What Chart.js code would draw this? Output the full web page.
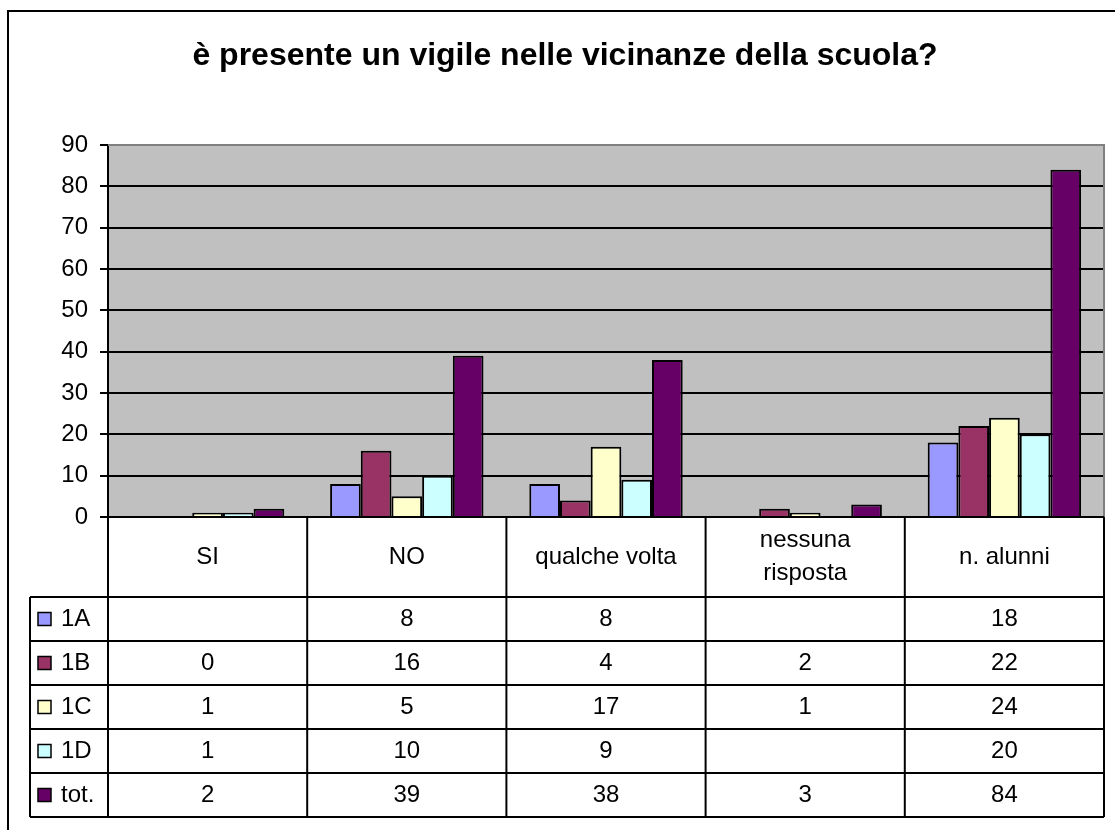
<!DOCTYPE html>
<html>
<head>
<meta charset="utf-8">
<script src="https://cdn.jsdelivr.net/npm/chart.js@4.4.1/dist/chart.umd.min.js"></script>
<style>
  html, body { margin: 0; padding: 0; background: #fff; }
</style>
</head>
<body>
<canvas id="barChart" width="1115" height="830"></canvas>
<script>
// data
const categories = ["SI", "NO", "qualche volta", ["nessuna", "risposta"], "n. alunni"];
const seriesNames = ["1A", "1B", "1C", "1D", "tot."];
const values1A = [null, 8, 8, null, 18];
const values1B = [0, 16, 4, 2, 22];
const values1C = [1, 5, 17, 1, 24];
const values1D = [1, 10, 9, null, 20];
const valuesTot = [2, 39, 38, 3, 84];
const yMax = 90;
const yStep = 10;

const seriesValues = [values1A, values1B, values1C, values1D, valuesTot];
const seriesColors = ["#9999FF", "#993366", "#FFFFCC", "#CCFFFF", "#660066"];
const fontFamily = '"Liberation Sans", Arial, sans-serif';

// grey plot area, outer frame and the data table under the bars
const dataTable = {
  id: 'dataTable',
  beforeDraw(chart) {
    const { ctx, chartArea: a } = chart;
    ctx.save();
    ctx.fillStyle = '#C0C0C0';
    ctx.fillRect(a.left, a.top, a.right - a.left, a.bottom - a.top);
    ctx.restore();
  },
  afterDraw(chart) {
    const { ctx, chartArea: a } = chart;
    const xs = chart.scales.x;
    const colW = (a.right - a.left) / categories.length;
    const headH = 80, rowH = 44, legLeft = 30;
    const top = a.bottom;
    const headBottom = top + headH;
    const bottom = headBottom + rowH * seriesNames.length;

    ctx.save();
    // outer frame of the chart object
    ctx.strokeStyle = '#000';
    ctx.lineWidth = 2;
    ctx.strokeRect(8, 11, 1400, 1100);

    // plot area top / right edge
    ctx.strokeStyle = '#808080';
    ctx.lineWidth = 2;
    ctx.beginPath();
    ctx.moveTo(a.left, a.top);
    ctx.lineTo(a.right, a.top);
    ctx.lineTo(a.right, a.bottom);
    ctx.stroke();

    // table grid
    ctx.strokeStyle = '#000';
    ctx.lineWidth = 2;
    ctx.beginPath();
    ctx.moveTo(a.left, top);
    ctx.lineTo(a.right, top);
    for (let i = 0; i <= categories.length; i++) {
      const x = a.left + i * colW;
      ctx.moveTo(x, top);
      ctx.lineTo(x, bottom);
    }
    ctx.moveTo(legLeft, headBottom);
    ctx.lineTo(legLeft, bottom);
    for (let r = 0; r <= seriesNames.length; r++) {
      const y = headBottom + r * rowH;
      ctx.moveTo(legLeft, y);
      ctx.lineTo(a.right, y);
    }
    ctx.stroke();

    ctx.fillStyle = '#000';
    ctx.font = '24px ' + fontFamily;
    ctx.textBaseline = 'middle';
    ctx.textAlign = 'center';

    // category headers
    categories.forEach((c, i) => {
      const cx = xs.getPixelForValue(i);
      const lines = Array.isArray(c) ? c : [c];
      const lh = 33;
      const y0 = top + headH / 2 - (lines.length - 1) * lh / 2;
      lines.forEach((t, k) => ctx.fillText(t, cx, y0 + k * lh));
    });

    // rows
    seriesNames.forEach((name, r) => {
      const cy = headBottom + r * rowH + rowH / 2;
      ctx.fillStyle = seriesColors[r];
      ctx.fillRect(38, cy - 6.5, 13, 13);
      ctx.strokeStyle = '#000';
      ctx.lineWidth = 1.5;
      ctx.strokeRect(38, cy - 6.5, 13, 13);
      ctx.fillStyle = '#000';
      ctx.textAlign = 'left';
      ctx.fillText(name, 61, cy);
      ctx.textAlign = 'center';
      seriesValues[r].forEach((v, i) => {
        if (v !== null) ctx.fillText(String(v), xs.getPixelForValue(i), cy);
      });
    });
    ctx.restore();
  }
};

new Chart(document.getElementById("barChart"), {
  type: 'bar',
  data: {
    labels: categories,
    datasets: seriesNames.map((name, i) => ({
      label: name,
      data: seriesValues[i],
      backgroundColor: seriesColors[i],
      borderColor: '#000',
      borderWidth: 2,
      categoryPercentage: 0.77,
      barPercentage: 1
    }))
  },
  options: {
    responsive: false,
    animation: false,
    layout: { padding: { left: 26, right: 11, top: 0, bottom: 313 } },
    plugins: {
      legend: { display: false },
      tooltip: { enabled: false },
      title: {
        display: true,
        text: 'è presente un vigile nelle vicinanze della scuola?',
        color: '#000',
        font: { family: fontFamily, size: 32, weight: 'bold' },
        padding: { top: 37, bottom: 69.6 }
      }
    },
    scales: {
      x: { display: false },
      y: {
        min: 0,
        max: yMax,
        afterFit(scale) { scale.width = 82; },
        ticks: {
          stepSize: yStep,
          color: '#000',
          padding: 12,
          font: { family: fontFamily, size: 24 }
        },
        grid: {
          color: ctx => ctx.tick && ctx.tick.value === yMax ? '#808080' : '#000',
          tickColor: '#000',
          lineWidth: 2,
          tickLength: 8
        },
        border: { display: true, color: '#000', width: 2 }
      }
    }
  },
  plugins: [dataTable]
});
</script>
</body>
</html>
